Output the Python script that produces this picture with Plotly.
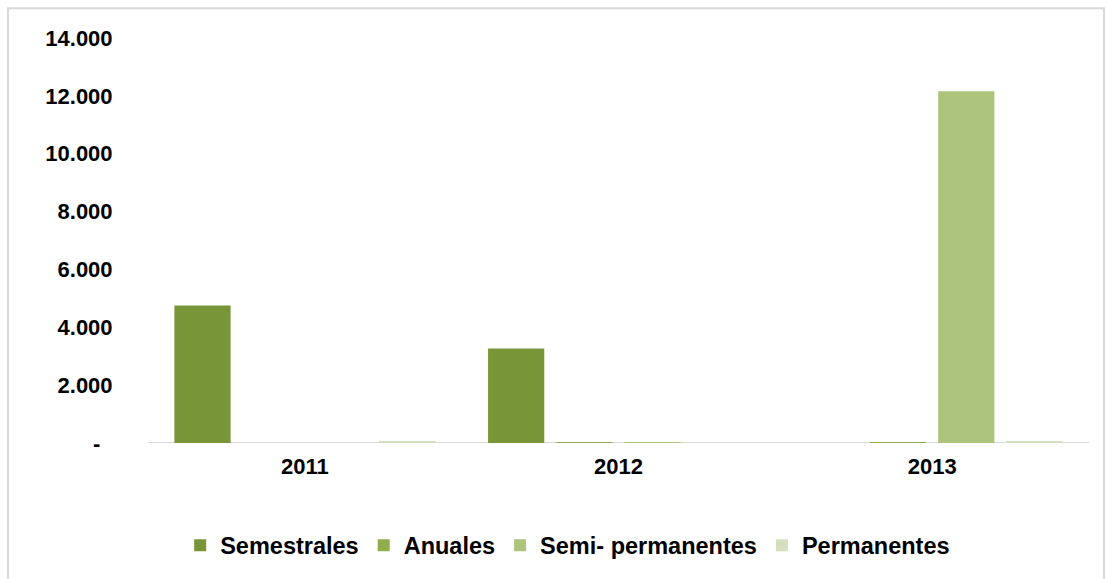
import plotly.graph_objects as go

# Categories and series values
years = ["2011", "2012", "2013"]
semestrales = [4750, 3270, 0]
anuales = [0, 30, 30]
semi_permanentes = [0, 30, 12160]
permanentes = [70, 0, 70]

series_names = ["Semestrales", "Anuales", "Semi- permanentes", "Permanentes"]
series_values = [semestrales, anuales, semi_permanentes, permanentes]
series_colors = ["#789538", "#8fae4c", "#adc47d", "#d3dfbf"]

y_tickvals = [0, 2000, 4000, 6000, 8000, 10000, 12000, 14000]
y_ticktext = ["-\u00a0\u00a0", "2.000", "4.000", "6.000", "8.000", "10.000", "12.000", "14.000"]

W, H = 1107, 579
L, R, T, B = 148, 18, 38, 134

font_family = "Liberation Sans, Arial, sans-serif"

fig = go.Figure()
for name, vals, col in zip(series_names, series_values, series_colors):
    fig.add_trace(go.Bar(
        name=name, x=years, y=vals,
        marker=dict(color=col, line=dict(width=0)),
    ))

pw = W - L - R
ph = H - T - B

def px_x(p):
    return (p - L) / pw

def px_y(p):
    return (H - B - p) / ph

fig.update_layout(
    width=W, height=H,
    margin=dict(l=L, r=R, t=T, b=B, pad=0),
    paper_bgcolor="white", plot_bgcolor="white",
    barmode="group", bargap=0.13, bargroupgap=0.176,
    font=dict(family=font_family, size=22, color="#000000", weight="bold"),
    showlegend=True,
    legend=dict(
        orientation="h", x=0.446, xanchor="center", y=px_y(548), yanchor="middle",
        font=dict(family=font_family, size=23.5, color="#000000", weight="bold"),
        itemwidth=30, traceorder="normal",
    ),
    xaxis=dict(
        showgrid=False, zeroline=False, showline=False,
        ticks="outside", ticklen=4, tickcolor="rgba(0,0,0,0)",
        tickfont=dict(family=font_family, size=22, color="#000000", weight="bold"),
    ),
    yaxis=dict(
        range=[0, 14000], showgrid=False, zeroline=False, showline=False,
        tickvals=y_tickvals, ticktext=y_ticktext,
        ticks="outside", ticklen=30, tickcolor="rgba(0,0,0,0)",
        tickfont=dict(family=font_family, size=22, color="#000000", weight="bold"),
    ),
    shapes=[
        # category axis baseline
        dict(type="line", xref="paper", yref="y", x0=0, x1=1, y0=0, y1=0,
             line=dict(color="#d9d9d9", width=2), layer="below"),
        # chart area frame
        dict(type="rect", xref="paper", yref="paper",
             x0=px_x(8), x1=px_x(1104), y0=px_y(590), y1=px_y(8),
             line=dict(color="#d9d9d9", width=2), layer="below"),
    ],
)

fig.write_html("out.html")
